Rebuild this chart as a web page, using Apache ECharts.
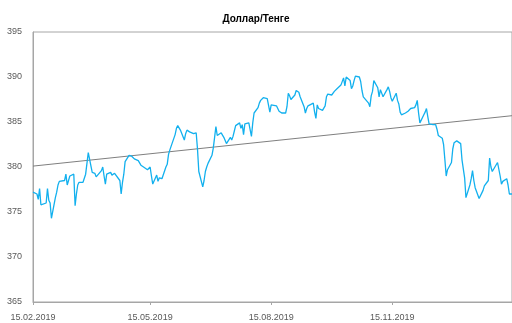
<!DOCTYPE html>
<html>
<head>
<meta charset="utf-8">
<script src="https://cdn.jsdelivr.net/npm/echarts@6/dist/echarts.min.js"></script>
<style>
  html, body { margin: 0; padding: 0; background: #fff; }
  #chart { width: 512px; height: 323px; }
</style>
</head>
<body>
<div id="chart"></div>
<script>
// USD/KZT daily rate, one value per trading weekday from 15.02.2019 to 14.02.2020
const firstDay = '2019-02-15';
const lastDay = '2020-02-14';
const rates = [
  377.2,
  377.0, 376.4, 377.6, 375.8, 375.9,
  376.0, 377.6, 376.3, 376.0, 374.3,
  376.6, 377.2, 378.0, 378.4, 378.6,
  378.5, 379.2, 378.0, 377.9, 379.0,
  379.2, 375.7, 377.0, 378.0, 378.3,
  378.3, 378.3, 379.2, 379.3, 381.6,
  379.4, 379.6, 379.3, 378.9, 378.7,
  379.6, 380.0, 379.0, 378.1, 379.2,
  379.4, 379.1, 379.1, 379.3, 379.1,
  378.5, 377.0, 378.3, 379.2, 380.6,
  381.3, 381.3, 381.2, 381.3, 380.9,
  380.7, 380.5, 380.2, 380.1, 380.0,
  379.7, 379.7, 380.0, 379.0, 378.1,
  379.1, 378.4, 378.8, 379.0, 378.7,
  380.0, 380.3, 381.4, 381.9, 381.7,
  383.6, 384.3, 384.6, 384.5, 384.1,
  383.0, 383.7, 384.1, 384.0, 383.9,
  383.7, 383.6, 383.8, 382.0, 379.5,
  377.8, 378.5, 379.5, 380.0, 380.4,
  381.3, 382.1, 383.3, 384.5, 383.5,
  383.8, 383.8, 383.3, 383.4, 382.6,
  383.3, 383.0, 383.4, 384.0, 384.6,
  384.9, 384.3, 384.7, 383.6, 384.8,
  384.9, 385.1, 383.4, 384.9, 386.0,
  386.6, 387.1, 387.4, 387.6, 387.7,
  387.6, 387.4, 386.1, 386.9, 387.1,
  386.8, 386.5, 386.2, 386.0, 386.0,
  386.0, 386.7, 388.2, 387.9, 387.5,
  388.0, 388.5, 388.5, 388.3, 387.8,
  386.7, 386.0, 386.5, 386.8, 387.0,
  387.1, 386.1, 385.4, 386.9, 386.5,
  386.3, 386.3, 386.8, 387.8, 388.1,
  388.0, 388.2, 388.4, 388.2, 388.7,
  389.1, 389.3, 389.9, 389.0, 390.0,
  389.6, 388.7, 389.0, 389.6, 390.1,
  390.0, 389.5, 388.5, 387.8, 387.6,
  387.1, 386.7, 387.9, 388.4, 389.6,
  388.8, 387.8, 388.6, 388.7, 387.8,
  388.6, 388.9, 388.4, 387.7, 387.3,
  388.2, 387.4, 387.0, 386.1, 385.8,
  386.0, 386.1, 386.2, 386.4, 386.5,
  386.6, 386.9, 387.4, 386.0, 384.9,
  385.8, 386.1, 386.5, 385.6, 384.8,
  384.7, 384.7, 384.7, 384.2, 383.5,
  383.2, 382.5, 380.8, 379.0, 379.7,
  380.5, 382.0, 382.7, 382.9, 382.9,
  382.6, 380.8, 380.7, 378.8, 376.6,
  378.0, 378.7, 379.6, 378.5, 377.7,
  376.5, 376.7, 377.1, 377.4, 377.9,
  378.5, 381.0, 380.0, 379.5, 379.5,
  380.5, 380.6, 379.0, 378.1, 378.4,
  378.7, 378.0, 377.0, 376.9, 377.0
];
// Linear trend line end values
const trendValues = [380.1, 385.7];
// Dates shown under the horizontal axis
const tickDates = ['2019-02-15', '2019-05-15', '2019-08-15', '2019-11-15'];
// Vertical axis range
const yMin = 365, yMax = 395, yStep = 5;

const DAY = 86400000;
function ts(s) { const p = s.split('-').map(Number); return Date.UTC(p[0], p[1] - 1, p[2]); }
function fmt(v) {
  const d = new Date(v);
  const dd = String(d.getUTCDate()).padStart(2, '0');
  const mm = String(d.getUTCMonth() + 1).padStart(2, '0');
  return dd + '.' + mm + '.' + d.getUTCFullYear();
}

// Trading calendar: weekdays between the first and last day
const tradingDays = [];
for (let t = ts(firstDay); t <= ts(lastDay); t += DAY) {
  const wd = new Date(t).getUTCDay();
  if (wd !== 0 && wd !== 6) tradingDays.push(t);
}
const lineData = rates.map((v, i) => [tradingDays[i], v]);
const trendData = [
  [tradingDays[0], trendValues[0]],
  [tradingDays[rates.length - 1], trendValues[1]]
];
const tickValues = tickDates.map(ts);

const axisGray = '#a6a6a6';
const labelColor = '#595959';
const font = 'Liberation Sans, Arial, sans-serif';

const chart = echarts.init(document.getElementById('chart'), null, { renderer: 'canvas' });
chart.setOption({
  animation: false,
  backgroundColor: '#ffffff',
  title: {
    text: 'Доллар/Тенге',
    left: 'center',
    top: 9,
    textStyle: { fontFamily: font, fontSize: 10, fontWeight: 'bold', color: '#000' }
  },
  grid: {
    left: 33, right: 0, top: 32, bottom: 21,
    show: true, borderColor: axisGray, borderWidth: 1, backgroundColor: 'transparent'
  },
  xAxis: {
    type: 'value',
    min: ts(firstDay),
    max: ts(lastDay),
    axisLine: { show: true, lineStyle: { color: axisGray, width: 1 } },
    axisTick: { show: true, length: 3, customValues: tickValues, lineStyle: { color: axisGray } },
    splitLine: { show: false },
    axisLabel: {
      customValues: tickValues,
      formatter: v => fmt(v),
      color: labelColor,
      fontFamily: font,
      fontSize: 9,
      margin: 11
    }
  },
  yAxis: {
    type: 'value',
    min: yMin, max: yMax, interval: yStep,
    axisLine: { show: true, lineStyle: { color: axisGray, width: 1 } },
    axisTick: { show: false },
    splitLine: { show: false },
    axisLabel: { color: labelColor, fontFamily: font, fontSize: 9, margin: 11 }
  },
  series: [
    {
      name: 'Доллар/Тенге',
      type: 'line',
      data: lineData,
      showSymbol: false,
      symbol: 'none',
      lineStyle: { color: '#12b0ee', width: 1.3 },
      z: 3
    },
    {
      name: 'Тренд',
      type: 'line',
      data: trendData,
      showSymbol: false,
      symbol: 'none',
      lineStyle: { color: '#7f7f7f', width: 1 },
      z: 2
    }
  ]
});
</script>
</body>
</html>
